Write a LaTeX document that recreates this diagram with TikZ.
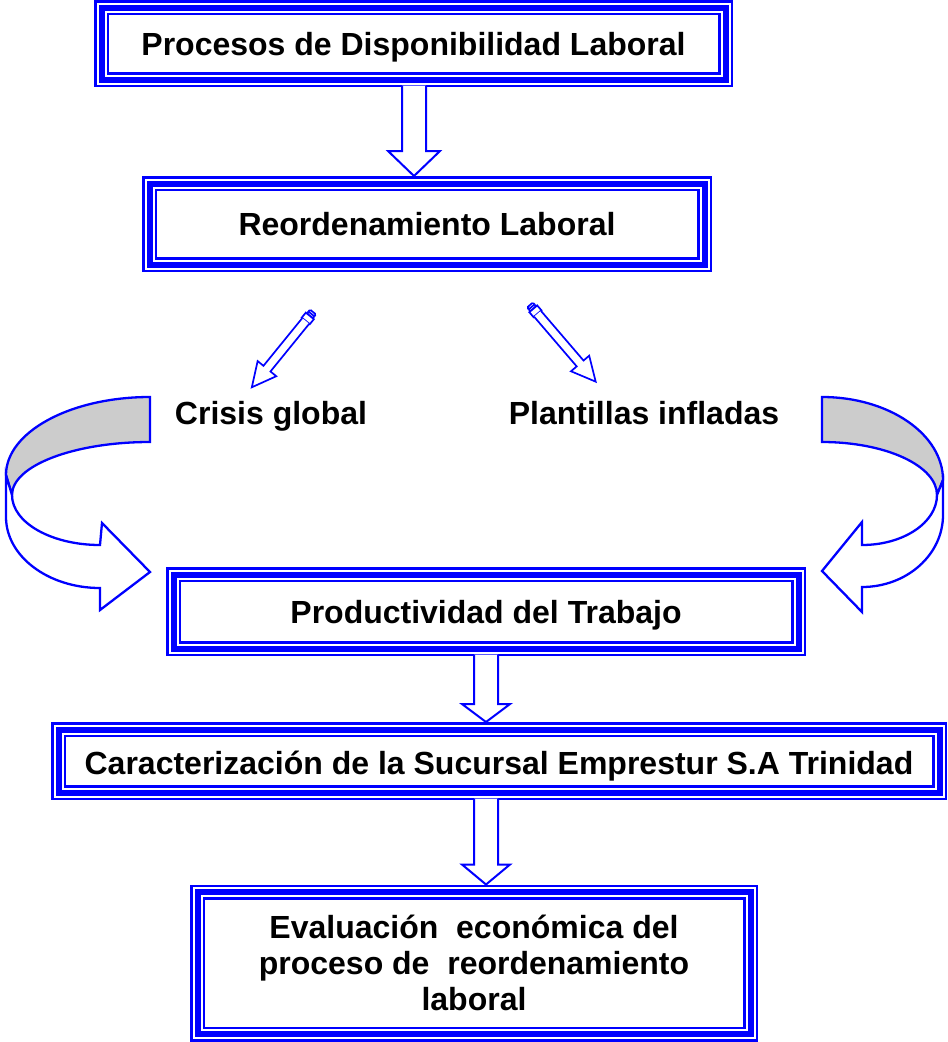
\documentclass[tikz,border=0pt]{standalone}
\usepackage{fontspec}
\setmainfont{Liberation Sans}
\usetikzlibrary{calc}
\definecolor{bblue}{RGB}{0,0,255}
\definecolor{bandgray}{RGB}{204,204,204}

% block arrow: x, from node, to node, head length, half head width
\newcommand{\blockarr}[5]{%
  \draw[blockarrow] let \p1=(#2.south), \p2=(#3.north) in
   ({#1pt-12pt},{\y1-6pt}) -- ({#1pt-12pt},{\y2+7.5pt+#4pt}) -- ({#1pt-#5pt},{\y2+7.5pt+#4pt})
   -- ({#1pt},{\y2+7.5pt}) -- ({#1pt+#5pt},{\y2+7.5pt+#4pt}) -- ({#1pt+12pt},{\y2+7.5pt+#4pt})
   -- ({#1pt+12pt},{\y1-6pt});
}
% pencil arrow: x, y of back end, angle, length
\newcommand{\pencilarr}[4]{%
  \begin{scope}[shift={(#1,#2)}, rotate=#3]
    \draw[pencilline, rounded corners=1.2pt] (0,-3.8) rectangle (5,3.8);
    \draw[pencilline] (2.5,-3.8) -- (2.5,3.8);
    \draw[pencilline] (5,-5.2) rectangle (11.5,5.2);
    \draw[pencilline] (11.5,-4.5) -- ({#4-24},-4.5) -- ({#4-24},-12) -- (#4,0)
      -- ({#4-24},12) -- ({#4-24},4.5) -- (11.5,4.5);
  \end{scope}
}

\begin{document}
\begin{tikzpicture}[x=1pt,y=-1pt,
  tribox/.style={draw=bblue, line width=15pt, inner sep=0pt, outer sep=0pt, align=center,
    font=\bfseries\fontsize{32}{36}\selectfont,
    postaction={draw=white,line width=10pt},
    postaction={draw=bblue,line width=6pt}},
  oneline/.style={text height=23pt, text depth=0pt},
  blockarrow/.style={draw=bblue, fill=white, line width=2pt, line join=miter},
  pencilline/.style={draw=bblue, fill=white, line width=1.7pt},
  curvearrow/.style={draw=bblue, fill=white, line width=2.3pt},
  band/.style={draw=bblue, fill=bandgray, line width=2.3pt},
  lbl/.style={font=\bfseries\fontsize{32}{36}\selectfont, inner sep=0pt, anchor=base}]
\useasboundingbox (0,0) rectangle (948,1042);

% boxes
\node[tribox, oneline, minimum width=624pt, minimum height=72pt] (b1) at (413.5,43.5) {Procesos de Disponibilidad Laboral};
\node[tribox, oneline, minimum width=555pt, minimum height=81pt] (b2) at (427,224) {Reordenamiento Laboral};
\node[tribox, oneline, minimum width=625pt, minimum height=74pt] (b3) at (486,611.5) {Productividad del Trabajo};
\node[tribox, text height=27pt, text depth=0pt, minimum width=881pt, minimum height=63pt] (b4) at (499,761) {Caracterización de la Sucursal Emprestur S.A Trinidad};
\node[tribox, minimum width=553pt, minimum height=142pt] (b5) at (474,963) {Evaluación~ económica del\\proceso de~ reordenamiento\\laboral};

% labels
\node[lbl] (crisis) at (271,424) {Crisis global};
\node[lbl] (plant) at (644,424) {Plantillas infladas};

% block arrows between boxes
\blockarr{414}{b1}{b2}{25}{26}
\blockarr{486}{b3}{b4}{18}{24}
\blockarr{486}{b4}{b5}{20}{24}

% pencil arrows
\pencilarr{313}{312}{-129.1}{97}
\pencilarr{530}{305}{-49.4}{101}

% left curved arrow
\path[band] (150,397) .. controls (70.5,397) and (6,431.9) .. (6,475)
  -- (12,495) .. controls (12,465.7) and (73.8,442) .. (150,442) -- cycle;
\path[curvearrow] (6,475) -- (6,517) .. controls (6,556.2) and (48.1,588) .. (100,588)
  -- (100,610) -- (150,572) -- (102,523) -- (100,545)
  .. controls (51.4,545) and (12,522.6) .. (12,495) -- cycle;

% right curved arrow
\path[band] (822,397) .. controls (888.8,397) and (943,434.2) .. (943,480)
  -- (937,495) .. controls (937,465.7) and (885.5,442) .. (822,442) -- cycle;
\path[curvearrow] (943,480) -- (943,515) .. controls (943,554.8) and (906.7,587) .. (862,587)
  -- (862,612) -- (822,571) -- (862,522) -- (862,545)
  .. controls (903.4,545) and (937,522.6) .. (937,495) -- cycle;
\end{tikzpicture}
\end{document}
